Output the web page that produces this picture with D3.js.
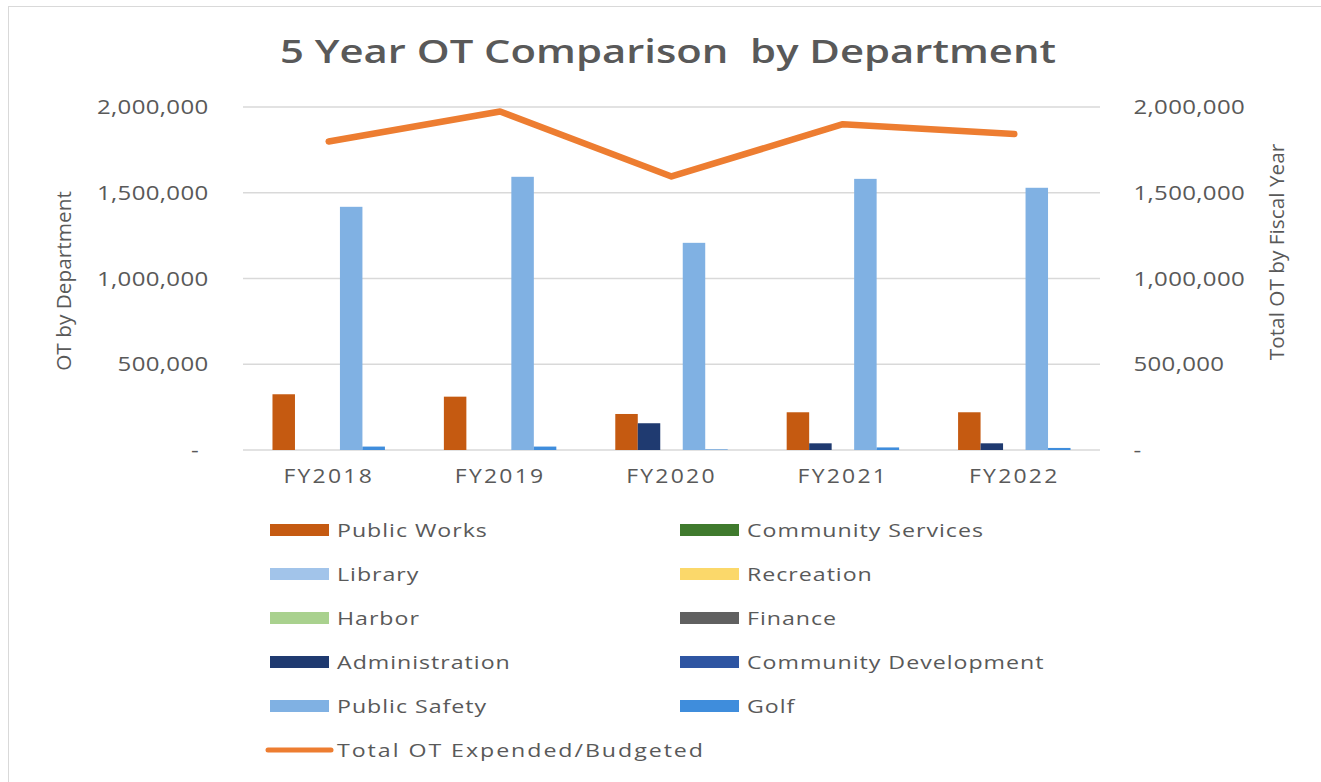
<!DOCTYPE html>
<html>
<head>
<meta charset="utf-8">
<script src="https://cdn.jsdelivr.net/npm/d3@7"></script>
<style>
  body { margin: 0; background: #fff; }
  text { font-family: "Open Sans", sans-serif; fill: #595959; }
</style>
</head>
<body>
<script>
// fiscal years on the x axis
const years = ["FY2018", "FY2019", "FY2020", "FY2021", "FY2022"];

// legend order (as in the original)
const departments = ["Public Works", "Community Services", "Library", "Recreation", "Harbor",
                     "Finance", "Administration", "Community Development", "Public Safety", "Golf"];

// OT by department, per fiscal year
const publicWorks = [325000, 311000, 210000, 220000, 220000];
const administration = [0, 0, 156000, 39000, 39000];
const communityDevelopment = [0, 0, 0, 0, 0];
const publicSafety = [1418000, 1593000, 1208000, 1581000, 1529000];
const golf = [20000, 20000, 3000, 15000, 12000];

// total OT expended/budgeted (secondary axis)
const totalOT = [1799000, 1974000, 1595000, 1900000, 1842000];

const yTicks = [0, 500000, 1000000, 1500000, 2000000];

const colors = {
  "Public Works": "#c55a11",
  "Community Services": "#3f7a2d",
  "Library": "#a2c4ea",
  "Recreation": "#fbd86a",
  "Harbor": "#a9d18e",
  "Finance": "#606060",
  "Administration": "#1f3a70",
  "Community Development": "#2e55a2",
  "Public Safety": "#80b1e3",
  "Golf": "#3f8ddc"
};

const barSeries = [
  {name: "Public Works", values: publicWorks},
  {name: "Administration", values: administration},
  {name: "Community Development", values: communityDevelopment},
  {name: "Public Safety", values: publicSafety},
  {name: "Golf", values: golf}
];

const width = 1321, height = 782;
const margin = {top: 107, right: 221, bottom: 332, left: 243};
const innerW = width - margin.left - margin.right;
const innerH = height - margin.top - margin.bottom;

// the original screenshot is a bit stretched sideways
const sx = 1.17;

const svg = d3.select("body").append("svg")
    .attr("width", width)
    .attr("height", height);

// chart frame
svg.append("rect")
    .attr("x", 8.5).attr("y", 6.5)
    .attr("width", 1340).attr("height", 800)
    .attr("fill", "none")
    .attr("stroke", "#d9d9d9");

svg.append("text")
    .attr("x", 668).attr("y", 63)
    .attr("text-anchor", "middle")
    .attr("textLength", 776)
    .attr("lengthAdjust", "spacingAndGlyphs")
    .style("font-size", "33px")
    .style("font-weight", "600")
    .style("white-space", "pre")
    .text("5 Year OT Comparison  by Department");

const g = svg.append("g")
    .attr("transform", "translate(" + margin.left + "," + margin.top + ")");

const x0 = d3.scaleBand().domain(years).range([0, innerW]);
const groupW = x0.bandwidth() * 0.656;
const x1 = d3.scaleBand().domain(barSeries.map(d => d.name)).range([0, groupW]);

const y = d3.scaleLinear().domain([0, 2000000]).range([innerH, 0]);
const yRight = d3.scaleLinear().domain([0, 2000000]).range([innerH, 0]);

const fmt = d => d === 0 ? "-" : d3.format(",")(d);

// gridlines
g.append("g")
    .selectAll("line")
    .data(yTicks)
    .join("line")
    .attr("x1", 0).attr("x2", innerW)
    .attr("y1", d => y(d)).attr("y2", d => y(d))
    .attr("stroke", "#d9d9d9")
    .attr("stroke-width", 1.5);

// left axis
const leftAxis = g.append("g")
    .attr("transform", "translate(-31,0)")
    .call(d3.axisLeft(y).tickValues(yTicks).tickFormat(fmt).tickSize(0));
leftAxis.select(".domain").remove();
leftAxis.selectAll("text")
    .style("font-size", "20.5px")
    .style("letter-spacing", "0.3px")
    .attr("dx", d => d === 0 ? "-8" : "0")
    .attr("transform", "scale(" + sx + ",1)");

// right axis
const rightAxis = g.append("g")
    .attr("transform", "translate(" + (innerW + 30) + ",0)")
    .call(d3.axisRight(yRight).tickValues(yTicks).tickFormat(fmt).tickSize(0));
rightAxis.select(".domain").remove();
rightAxis.selectAll("text")
    .style("font-size", "20.5px")
    .style("letter-spacing", "0.3px")
    .attr("transform", "scale(" + sx + ",1)");

// x axis labels
const xAxis = g.append("g")
    .attr("transform", "translate(0," + innerH + ")")
    .call(d3.axisBottom(x0).tickSize(0));
xAxis.select(".domain").remove();
xAxis.selectAll("text")
    .attr("dy", "1.45em")
    .style("font-size", "20.5px")
    .style("letter-spacing", "2px")
    .attr("transform", "scale(1.12,1)");

// axis titles
svg.append("text")
    .attr("transform", "translate(71,281) rotate(-90)")
    .attr("text-anchor", "middle")
    .style("font-size", "20.8px")
    .text("OT by Department");

svg.append("text")
    .attr("transform", "translate(1284,252) rotate(-90)")
    .attr("text-anchor", "middle")
    .style("font-size", "20.8px")
    .text("Total OT by Fiscal Year");

// bars
const groups = g.append("g")
    .selectAll("g")
    .data(barSeries)
    .join("g")
    .attr("fill", d => colors[d.name]);

groups.selectAll("rect")
    .data(d => d.values.map((v, i) => ({name: d.name, year: years[i], value: v})))
    .join("rect")
    .attr("x", d => x0(d.year) + (x0.bandwidth() - groupW) / 2 + x1(d.name))
    .attr("width", x1.bandwidth())
    .attr("y", d => y(d.value))
    .attr("height", d => innerH - y(d.value));

// total line
const line = d3.line()
    .x((d, i) => x0(years[i]) + x0.bandwidth() / 2)
    .y(d => yRight(d));

g.append("path")
    .datum(totalOT)
    .attr("d", line)
    .attr("fill", "none")
    .attr("stroke", "#ed7d31")
    .attr("stroke-width", 6.5)
    .attr("stroke-linecap", "round")
    .attr("stroke-linejoin", "round");

// legend
const legend = svg.append("g");
const legendItems = departments.map((name, i) => ({name: name, col: i % 2, row: Math.floor(i / 2)}));

const item = legend.selectAll("g")
    .data(legendItems)
    .join("g")
    .attr("transform", d => "translate(" + (d.col === 0 ? 270 : 680) + "," + (530 + d.row * 44) + ")");

item.append("rect")
    .attr("x", 0).attr("y", -6)
    .attr("width", 59).attr("height", 12)
    .attr("fill", d => colors[d.name]);

item.append("text")
    .attr("transform", "translate(67,0) scale(1.22,1)")
    .attr("dy", "0.35em")
    .style("font-size", "19px")
    .style("letter-spacing", "0.8px")
    .text(d => d.name);

const lineItem = legend.append("g")
    .attr("transform", "translate(268," + (530 + 5 * 44) + ")");
lineItem.append("line")
    .attr("x1", 0).attr("x2", 63)
    .attr("stroke", "#ed7d31")
    .attr("stroke-width", 5)
    .attr("stroke-linecap", "round");
lineItem.append("text")
    .attr("transform", "translate(69,0) scale(1.22,1)")
    .attr("dy", "0.35em")
    .style("font-size", "19px")
    .style("letter-spacing", "1.6px")
    .text("Total OT Expended/Budgeted");
</script>
</body>
</html>
